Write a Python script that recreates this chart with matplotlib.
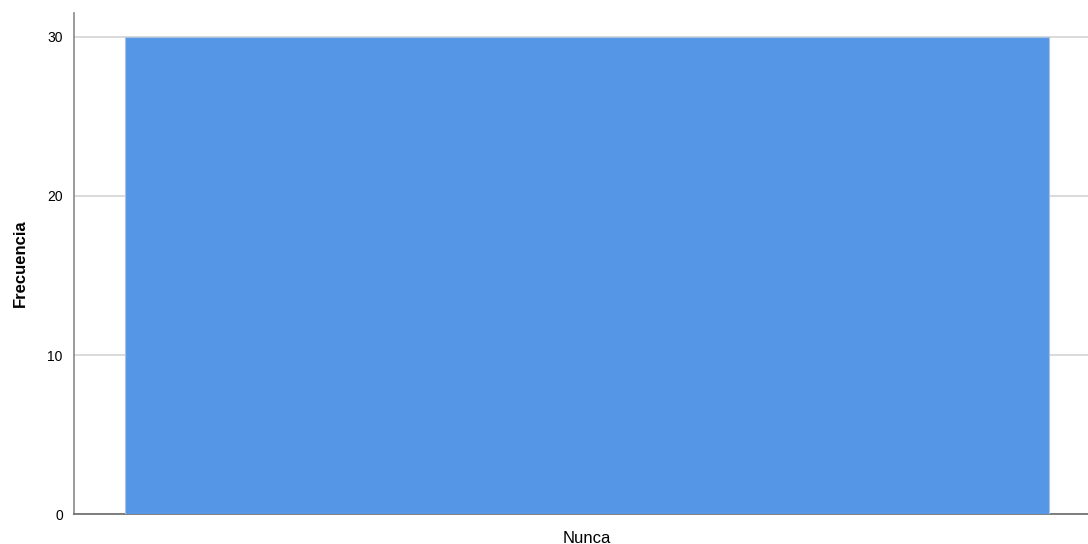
import matplotlib
matplotlib.use("Agg")
import matplotlib.pyplot as plt

categorias = ["Nunca"]
frecuencias = [30]
yticks = [0, 10, 20, 30]

plt.rcParams['font.family'] = ['Liberation Sans', 'DejaVu Sans']

fig = plt.figure(figsize=(10.88, 5.44), dpi=100)
ax = fig.add_axes([0.068, 0.055, 0.932, 0.921])

ax.bar(categorias, frecuencias, width=0.911, color="#5596e6",
       edgecolor="#a9c3e0", linewidth=0.8, zorder=3)

ax.set_xlim(-0.506, 0.494)
ax.set_ylim(0, 31.5)
ax.set_yticks(yticks)
ax.yaxis.grid(True, color="#d4d4d4", linewidth=1.2, zorder=0)
ax.set_axisbelow(True)

ax.spines["top"].set_visible(False)
ax.spines["right"].set_visible(False)
ax.spines["left"].set_color("#8a8a8a")
ax.spines["bottom"].set_color("#6a6a6a")
ax.spines["left"].set_linewidth(1.2)
ax.spines["bottom"].set_linewidth(1.2)

ax.tick_params(axis="both", length=0)
ax.tick_params(axis="y", labelsize=10, pad=8)
ax.tick_params(axis="x", labelsize=12, pad=12)

ax.set_ylabel("Frecuencia", fontsize=12, fontweight="bold", labelpad=14)

fig.savefig("out.png", dpi=100)
